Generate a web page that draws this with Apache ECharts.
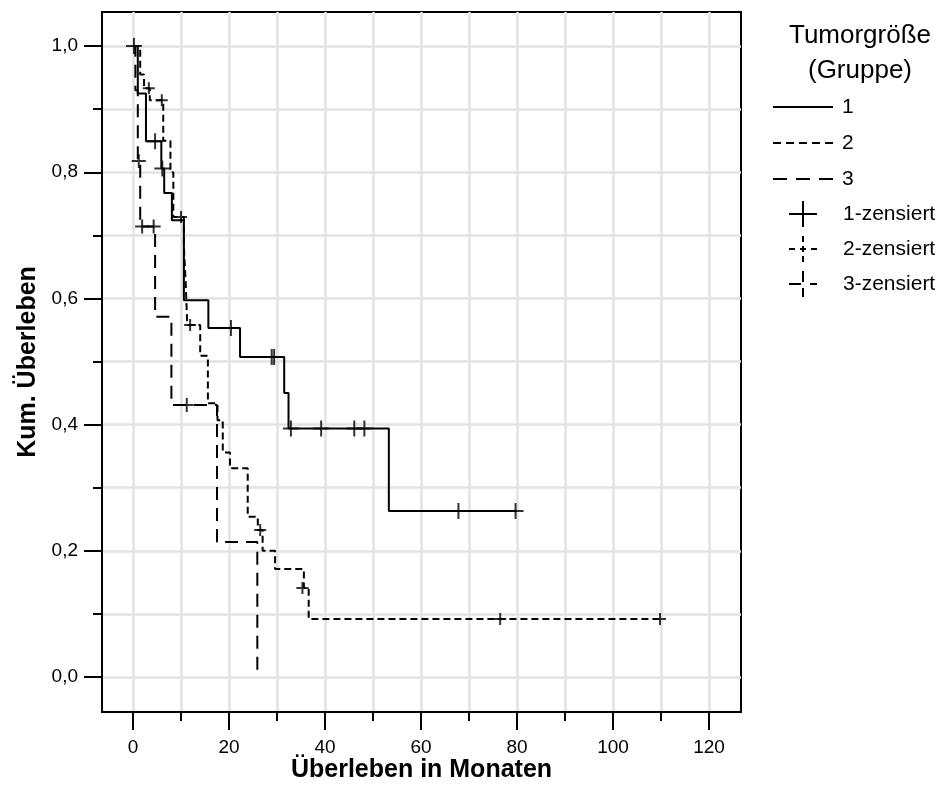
<!DOCTYPE html>
<html><head><meta charset="utf-8">
<script src="https://cdn.jsdelivr.net/npm/echarts@6/dist/echarts.min.js"></script>
<style>html,body{margin:0;padding:0;background:#fff}#c{width:941px;height:798px}</style>
</head><body><div id="c"></div>
<script>
// ---- tick values ----
const xTickMajor = [0, 20, 40, 60, 80, 100, 120];
const xTickAll = [0, 10, 20, 30, 40, 50, 60, 70, 80, 90, 100, 110, 120];
const yTickMajor = [0, 0.2, 0.4, 0.6, 0.8, 1.0];
const yTickAll = [0, 0.1, 0.2, 0.3, 0.4, 0.5, 0.6, 0.7, 0.8, 0.9, 1.0];

// ---- group 1 (solid) ----
const g1Times = [0, 1.0, 2.7, 5.9, 6.5, 8.1, 10.6, 15.7, 22.3, 31.5, 32.4, 53.3, 80.0];
const g1Surv  = [1.0, 0.925, 0.849, 0.806, 0.767, 0.724, 0.597, 0.553, 0.507, 0.450, 0.394, 0.263, 0.263];
const g1CensT = [0.2, 4.6, 6.1, 20.4, 28.9, 29.4, 32.9, 39.2, 46.1, 48.2, 67.8, 79.7];
const g1CensS = [1.0, 0.849, 0.806, 0.553, 0.507, 0.507, 0.394, 0.394, 0.394, 0.394, 0.263, 0.263];

// ---- group 2 (short dash) ----
const g2Times = [0, 1.5, 2.3, 3.5, 6.3, 7.8, 8.4, 10.6, 11.0, 11.3, 14.0, 15.6, 17.6, 18.7, 20.2, 23.9, 26.0, 27.0, 29.6, 35.6, 36.6, 110.0];
const g2Surv  = [1.0, 0.955, 0.933, 0.914, 0.850, 0.800, 0.729, 0.683, 0.620, 0.558, 0.509, 0.434, 0.407, 0.356, 0.331, 0.254, 0.233, 0.200, 0.171, 0.141, 0.092, 0.092];
const g2CensT = [3.3, 6.0, 10.0, 11.9, 26.5, 35.3, 76.5, 109.8];
const g2CensS = [0.933, 0.914, 0.729, 0.558, 0.233, 0.141, 0.092, 0.092];

// ---- group 3 (long dash) ----
const g3Times = [0, 0.5, 1.0, 1.5, 4.6, 8.0, 17.5, 25.9];
const g3Surv  = [1.0, 0.930, 0.818, 0.714, 0.571, 0.431, 0.214, 0.0];
const g3CensT = [1.2, 1.9, 4.3, 11.2];
const g3CensS = [0.818, 0.714, 0.714, 0.431];

const FONT = 'Liberation Sans, Arial, sans-serif';
const pair = (a, b) => a.map((v, i) => [v, b[i]]);
const plusPath = 'path://M5,0L5,10M0,5L10,5';

const xMin = -6.46, xMax = 126.67, yMin = -0.0555, yMax = 1.054;

function kmLine(name, t, s, dash) {
  return {
    name, type: 'line', step: 'end', data: pair(t, s), showSymbol: false, symbol: 'none',
    lineStyle: { color: '#000', width: 2, type: dash }, z: 5, animation: false
  };
}
function cens(name, t, s, size) {
  return {
    name, type: 'scatter', data: pair(t, s), symbol: plusPath, symbolSize: size,
    itemStyle: { color: 'rgba(0,0,0,0)', borderColor: '#000', borderWidth: 2 }, z: 6, animation: false
  };
}

const chart = echarts.init(document.getElementById('c'), null, { renderer: 'canvas' });
const axisCommon = { type: 'value', gridIndex: 0 };
chart.setOption({
  animation: false,
  backgroundColor: '#fff',
  grid: { left: 102, top: 12, width: 639, height: 700, show: true, borderColor: '#000', borderWidth: 2, backgroundColor: 'transparent' },
  xAxis: [
    Object.assign({}, axisCommon, {
      min: xMin, max: xMax, position: 'bottom',
      axisLine: { show: true, onZero: false, lineStyle: { color: '#000', width: 2 } },
      axisTick: { show: true, inside: false, length: 18, customValues: xTickMajor, lineStyle: { color: '#000', width: 2 } },
      axisLabel: { show: true, customValues: xTickMajor, margin: 26, fontSize: 19, fontFamily: FONT, color: '#000' },
      splitLine: { show: false },
      name: 'Überleben in Monaten', nameLocation: 'middle', nameGap: 46, nameMoveOverlap: false,
      nameTextStyle: { fontSize: 25, fontWeight: 'bold', fontFamily: FONT, color: '#000' }
    }),
    Object.assign({}, axisCommon, {
      min: xMin, max: xMax, position: 'bottom',
      axisLine: { show: false, onZero: false },
      axisTick: { show: true, inside: false, length: 9, customValues: xTickAll, lineStyle: { color: '#000', width: 2 } },
      axisLabel: { show: false },
      splitLine: { show: true, lineStyle: { color: '#e2e2e2', width: 2.5 } }
    })
  ],
  yAxis: [
    Object.assign({}, axisCommon, {
      min: yMin, max: yMax, position: 'left',
      axisLine: { show: true, onZero: false, lineStyle: { color: '#000', width: 2 } },
      axisTick: { show: true, inside: false, length: 18, customValues: yTickMajor, lineStyle: { color: '#000', width: 2 } },
      axisLabel: { show: true, customValues: yTickMajor, margin: 24, fontSize: 19, fontFamily: FONT, color: '#000',
        formatter: v => v.toFixed(1).replace('.', ',') },
      splitLine: { show: false },
      name: 'Kum. Überleben', nameLocation: 'middle', nameGap: 57, nameRotate: 90,
      nameTextStyle: { fontSize: 25, fontWeight: 'bold', fontFamily: FONT, color: '#000' }
    }),
    Object.assign({}, axisCommon, {
      min: yMin, max: yMax, position: 'left',
      axisLine: { show: false, onZero: false },
      axisTick: { show: true, inside: false, length: 9, customValues: yTickAll, lineStyle: { color: '#000', width: 2 } },
      axisLabel: { show: false },
      splitLine: { show: true, lineStyle: { color: '#e2e2e2', width: 2.5 } }
    })
  ],
  series: [
    kmLine('1', g1Times, g1Surv, 'solid'),
    kmLine('2', g2Times, g2Surv, [7, 4]),
    kmLine('3', g3Times, g3Surv, [13, 8]),
    cens('1-zensiert', g1CensT, g1CensS, 16),
    cens('2-zensiert', g2CensT, g2CensS, 12),
    cens('3-zensiert', g3CensT, g3CensS, 14)
  ],
  graphic: [
    { type: 'text', x: 860, y: 36, style: { text: 'Tumorgröße', font: '26px ' + FONT, fill: '#000', align: 'center', verticalAlign: 'middle' } },
    { type: 'text', x: 860, y: 71, style: { text: '(Gruppe)', font: '26px ' + FONT, fill: '#000', align: 'center', verticalAlign: 'middle' } },
    { type: 'line', shape: { x1: 773, y1: 107, x2: 833, y2: 107 }, style: { stroke: '#000', lineWidth: 2 } },
    { type: 'line', shape: { x1: 773, y1: 143, x2: 833, y2: 143 }, style: { stroke: '#000', lineWidth: 2, lineDash: [8, 5] } },
    { type: 'line', shape: { x1: 773, y1: 179, x2: 833, y2: 179 }, style: { stroke: '#000', lineWidth: 2, lineDash: [14, 9] } },
    { type: 'text', x: 842, y: 107, style: { text: '1', font: '21px ' + FONT, fill: '#000', verticalAlign: 'middle' } },
    { type: 'text', x: 842, y: 143, style: { text: '2', font: '21px ' + FONT, fill: '#000', verticalAlign: 'middle' } },
    { type: 'text', x: 842, y: 179, style: { text: '3', font: '21px ' + FONT, fill: '#000', verticalAlign: 'middle' } },
    // censor legend symbols
    { type: 'line', shape: { x1: 789, y1: 214, x2: 817, y2: 214 }, style: { stroke: '#000', lineWidth: 2 } },
    { type: 'line', shape: { x1: 803, y1: 201, x2: 803, y2: 227 }, style: { stroke: '#000', lineWidth: 2 } },
    { type: 'line', shape: { x1: 789, y1: 249, x2: 817, y2: 249 }, style: { stroke: '#000', lineWidth: 2, lineDash: [6, 5] } },
    { type: 'line', shape: { x1: 803, y1: 236, x2: 803, y2: 262 }, style: { stroke: '#000', lineWidth: 2, lineDash: [6, 4] } },
    { type: 'line', shape: { x1: 789, y1: 284, x2: 817, y2: 284 }, style: { stroke: '#000', lineWidth: 2, lineDash: [12, 9] } },
    { type: 'line', shape: { x1: 803, y1: 271, x2: 803, y2: 297 }, style: { stroke: '#000', lineWidth: 2, lineDash: [11, 6] } },
    { type: 'text', x: 843, y: 214, style: { text: '1-zensiert', font: '21px ' + FONT, fill: '#000', verticalAlign: 'middle' } },
    { type: 'text', x: 843, y: 249, style: { text: '2-zensiert', font: '21px ' + FONT, fill: '#000', verticalAlign: 'middle' } },
    { type: 'text', x: 843, y: 284, style: { text: '3-zensiert', font: '21px ' + FONT, fill: '#000', verticalAlign: 'middle' } }
  ]
});
</script>
</body></html>
